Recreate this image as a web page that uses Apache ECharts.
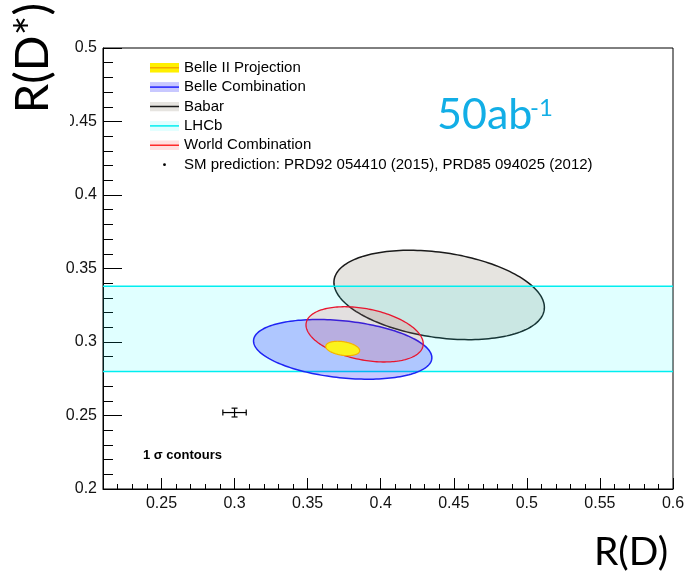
<!DOCTYPE html>
<html><head><meta charset="utf-8">
<script src="https://cdn.jsdelivr.net/npm/echarts@6/dist/echarts.min.js"></script>
<style>html,body{margin:0;padding:0;background:#fff}#c{width:687px;height:571px}</style>
</head><body><div id="c"></div>
<script>
// Ellipses: [R(D) centre, R(D*) centre, sigma R(D), sigma R(D*), correlation]
const belle2Projection = [0.374, 0.2956, 0.0116, 0.0049, -0.30];
const belleCombination = [0.374, 0.2950, 0.0610, 0.0203, -0.28];
const babar = [0.440, 0.3320, 0.0720, 0.0304, -0.28];
const worldCombination = [0.389, 0.3052, 0.0401, 0.0188, -0.34];
// LHCb band: [R(D*) centre, sigma]
const lhcb = [0.309, 0.029];
// SM prediction: [R(D), R(D*), err R(D), err R(D*)]
const smPrediction = [0.300, 0.252, 0.008, 0.003];
const xTickLabels = [0.25, 0.3, 0.35, 0.4, 0.45, 0.5, 0.55, 0.6];
const yTickLabels = [0.2, 0.25, 0.3, 0.35, 0.4, 0.45, 0.5];
const seriesNames = ['Belle II Projection', 'Belle Combination', 'Babar', 'LHCb', 'World Combination',
  'SM prediction: PRD92 054410 (2015), PRD85 094025 (2012)'];

const xMinor = [], yMinor = [];
for (let i = 21; i <= 60; i++) xMinor.push(i / 100);
for (let i = 20; i <= 50; i++) yMinor.push(i / 100);

function ellipseRender(fill, stroke, lw) {
  return function (params, api) {
    const x0 = api.value(0), y0 = api.value(1), sx = api.value(2), sy = api.value(3), r = api.value(4);
    const q = Math.sqrt(1 - r * r);
    const pts = [];
    const N = 180;
    for (let i = 0; i < N; i++) {
      const t = 2 * Math.PI * i / N;
      pts.push(api.coord([x0 + sx * Math.cos(t), y0 + sy * (r * Math.cos(t) + q * Math.sin(t))]));
    }
    return { type: 'polygon', shape: { points: pts }, style: { fill: fill, stroke: stroke, lineWidth: lw } };
  };
}

function iconSvg(fill, line, dot) {
  let s = '<svg xmlns="http://www.w3.org/2000/svg" width="29" height="10" viewBox="0 0 29 10">';
  if (fill) s += '<rect x="0" y="0" width="29" height="10" fill="' + fill + '"/>';
  if (line) s += '<line x1="0" y1="5" x2="29" y2="5" stroke="' + line + '" stroke-width="1.5"/>';
  if (dot) s += '<circle cx="14.5" cy="5" r="1.4" fill="#000"/>';
  s += '</svg>';
  return 'image://data:image/svg+xml;charset=utf-8,' + encodeURIComponent(s);
}
const icons = [
  iconSvg('#fff000', '#f5a800'),
  iconSvg('#c8c8ff', '#2020ff'),
  iconSvg('#e6e4e0', '#1a1a1a'),
  iconSvg('#e0ffff', '#00eef0'),
  iconSvg('#ffe0e0', '#ff2a2a'),
  iconSvg(null, null, true)
];

const chart = echarts.init(document.getElementById('c'), null, { renderer: 'canvas' });
const tickFont = 'Liberation Sans, Arial, sans-serif';
const titleFont = 'Lato, Open Sans, sans-serif';

chart.setOption({
  animation: false,
  backgroundColor: '#fff',
  grid: { left: 103, top: 48, right: 14, bottom: 82, show: true, borderColor: '#000', borderWidth: 1,
    backgroundColor: 'transparent', containLabel: false, outerBoundsMode: 'none' },
  legend: {
    orient: 'vertical', left: 150, top: 58, itemWidth: 29, itemHeight: 10, itemGap: 0, padding: 0,
    selectedMode: false,
    textStyle: { fontFamily: tickFont, fontSize: 15, color: '#000', lineHeight: 19.4 },
    data: seriesNames.map((n, i) => ({ name: n, icon: icons[i] }))
  },
  xAxis: [
    { type: 'value', min: 0.21, max: 0.6, position: 'bottom',
      axisLine: { show: true, onZero: false, lineStyle: { color: '#000', width: 1 } },
      axisTick: { show: true, inside: true, length: 11, customValues: xTickLabels, lineStyle: { color: '#000' } },
      axisLabel: { customValues: xTickLabels, formatter: v => String(v), fontFamily: tickFont, fontSize: 16, color: '#111', margin: 7 },
      splitLine: { show: false } },
    { type: 'value', min: 0.21, max: 0.6, position: 'bottom',
      axisLine: { show: false, onZero: false },
      axisTick: { show: true, inside: true, length: 5, customValues: xMinor, lineStyle: { color: '#000' } },
      axisLabel: { show: false }, splitLine: { show: false } }
  ],
  yAxis: [
    { type: 'value', min: 0.2, max: 0.5, position: 'left',
      axisLine: { show: true, onZero: false, lineStyle: { color: '#000', width: 1 } },
      axisTick: { show: true, inside: true, length: 19, customValues: yTickLabels, lineStyle: { color: '#000' } },
      axisLabel: { customValues: yTickLabels, formatter: v => String(v), fontFamily: tickFont, fontSize: 16, color: '#111', margin: 6 },
      splitLine: { show: false } },
    { type: 'value', min: 0.2, max: 0.5, position: 'left',
      axisLine: { show: false, onZero: false },
      axisTick: { show: true, inside: true, length: 10, customValues: yMinor, lineStyle: { color: '#000' } },
      axisLabel: { show: false }, splitLine: { show: false } }
  ],
  series: [
    { type: 'custom', name: seriesNames[2], z: 2, data: [babar], renderItem: ellipseRender('#e6e4e0', '#1a1a1a', 1.5) },
    { type: 'custom', name: seriesNames[3], z: 3, data: [lhcb],
      renderItem: function (params, api) {
        const cs = params.coordSys;
        const yTop = api.coord([0.4, api.value(0) + api.value(1)])[1];
        const yBot = api.coord([0.4, api.value(0) - api.value(1)])[1];
        return { type: 'group', children: [
          { type: 'rect', shape: { x: cs.x, y: yTop, width: cs.width, height: yBot - yTop }, style: { fill: 'rgba(0,255,255,0.12)' } },
          { type: 'line', shape: { x1: cs.x, y1: yTop, x2: cs.x + cs.width, y2: yTop }, style: { stroke: '#00eef0', lineWidth: 1.5 } },
          { type: 'line', shape: { x1: cs.x, y1: yBot, x2: cs.x + cs.width, y2: yBot }, style: { stroke: '#00eef0', lineWidth: 1.5 } }
        ] };
      },
      encode: { x: -1, y: 0 } },
    { type: 'custom', name: seriesNames[1], z: 4, data: [belleCombination], renderItem: ellipseRender('rgba(0,0,255,0.22)', '#1f24f5', 1.5) },
    { type: 'custom', name: seriesNames[4], z: 5, data: [worldCombination], renderItem: ellipseRender('rgba(255,0,0,0.12)', '#e8152e', 1.3) },
    { type: 'custom', name: seriesNames[0], z: 6, data: [belle2Projection], renderItem: ellipseRender('#fbf31c', '#f5b400', 1.2) },
    { type: 'custom', name: seriesNames[5], z: 7, data: [smPrediction],
      renderItem: function (params, api) {
        const x = api.value(0), y = api.value(1), ex = api.value(2), ey = api.value(3);
        const pL = api.coord([x - ex, y]), pR = api.coord([x + ex, y]);
        const pT = api.coord([x, y + ey]), pB = api.coord([x, y - ey]);
        const st = { stroke: '#000', lineWidth: 1.2 };
        const c = 3;
        return { type: 'group', children: [
          { type: 'line', shape: { x1: pL[0], y1: pL[1], x2: pR[0], y2: pR[1] }, style: st },
          { type: 'line', shape: { x1: pL[0], y1: pL[1] - c, x2: pL[0], y2: pL[1] + c }, style: st },
          { type: 'line', shape: { x1: pR[0], y1: pR[1] - c, x2: pR[0], y2: pR[1] + c }, style: st },
          { type: 'line', shape: { x1: pT[0], y1: pT[1], x2: pB[0], y2: pB[1] }, style: st },
          { type: 'line', shape: { x1: pT[0] - c, y1: pT[1], x2: pT[0] + c, y2: pT[1] }, style: st },
          { type: 'line', shape: { x1: pB[0] - c, y1: pB[1], x2: pB[0] + c, y2: pB[1] }, style: st }
        ] };
      } }
  ],
  graphic: [
    { type: 'rect', z: 50, shape: { x: 0, y: 0, width: 70, height: 130 }, style: { fill: '#fff' } },
    { type: 'text', z: 60, x: 33, y: 58, rotation: Math.PI / 2,
      style: { text: 'R(D*)', font: '47px ' + titleFont, fill: '#000', align: 'center', verticalAlign: 'middle' } },
    { type: 'text', z: 60, x: 631, y: 552,
      style: { text: 'R(D)', font: '39px ' + titleFont, fill: '#000', align: 'center', verticalAlign: 'middle' } },
    { type: 'text', z: 60, x: 437, y: 115,
      style: { text: '50ab', font: '43px ' + titleFont, fill: '#12aee6', align: 'left', verticalAlign: 'middle' } },
    { type: 'text', z: 60, x: 530, y: 108,
      style: { text: '-1', font: '24px ' + titleFont, fill: '#12aee6', align: 'left', verticalAlign: 'middle' } },
    { type: 'text', z: 60, x: 143, y: 455,
      style: { text: '1 σ contours', font: 'bold 13px ' + tickFont, fill: '#000', align: 'left', verticalAlign: 'middle' } }
  ]
});
</script>
</body></html>
